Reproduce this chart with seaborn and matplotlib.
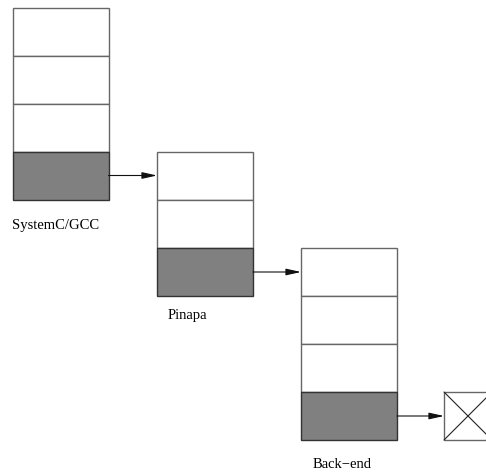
import seaborn as sns
import matplotlib.pyplot as plt
from matplotlib.patches import Rectangle

# Stacks of the tool chain
stack_labels = ['SystemC/GCC', 'Pinapa', 'Back\u2212end']
stack_cells = [4, 3, 4]
stack_left = [12.5, 157, 301]
stack_top = [7.5, 152, 248]
label_pos = [(12, 225), (168, 316), (313, 464)]

cell_w = 96
cell_h = 48

sns.set_style('white')
plt.rcParams['font.family'] = ['Liberation Serif', 'DejaVu Serif']

fig = plt.figure(figsize=(4.86, 4.72), dpi=100)
ax = fig.add_axes([0, 0, 1, 1])
ax.set_xlim(0, 486)
ax.set_ylim(472, 0)
ax.axis('off')

for i, (lab, n, x0, y0) in enumerate(zip(stack_labels, stack_cells, stack_left, stack_top)):
    # Zellen des Stapels, letzte ist grau
    for k in range(n):
        gray = k == n - 1
        ax.add_patch(Rectangle((x0, y0 + k * cell_h), cell_w, cell_h,
                               facecolor='#808080' if gray else 'white',
                               edgecolor='#333333' if gray else '#666666', lw=1.0))
    ax.text(label_pos[i][0], label_pos[i][1], lab, fontsize=10.5, va='center',
            ha='left', color='black')

    # Pfeil zum naechsten Stapel
    ya = y0 + (n - 0.5) * cell_h
    x1 = x0 + cell_w
    x2 = stack_left[i + 1] if i + 1 < len(stack_left) else 444
    ax.annotate('', xy=(x2, ya), xytext=(x1, ya),
                arrowprops=dict(arrowstyle='-|>,head_length=0.9,head_width=0.2',
                                color='#111111', lw=0.8, shrinkA=0, shrinkB=0))

# Endkasten mit Kreuz
bx, by = 444, 392
ax.add_patch(Rectangle((bx, by), 48, 48, facecolor='white', edgecolor='#666666', lw=1.0))
ax.plot([bx, bx + 48], [by, by + 48], color='#222222', lw=0.8)
ax.plot([bx, bx + 48], [by + 48, by], color='#222222', lw=0.8)

fig.savefig('out.png', dpi=100)
